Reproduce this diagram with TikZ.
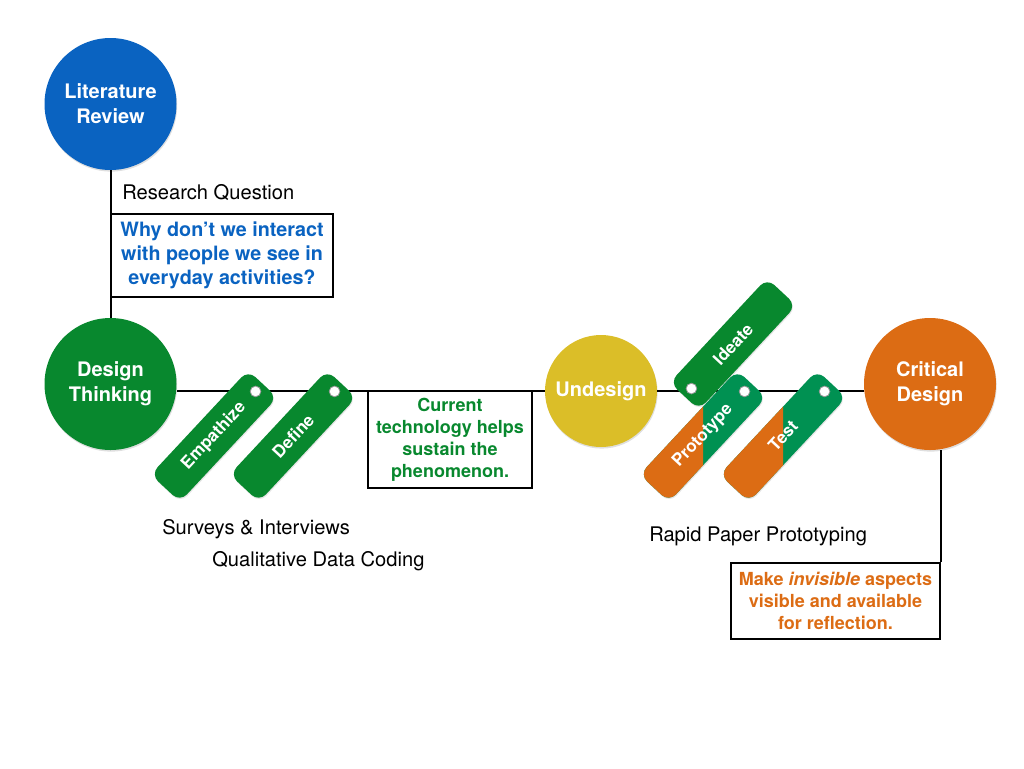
\documentclass[tikz,border=0pt]{standalone}
\usepackage{fontspec}
\setmainfont{TeX Gyre Heros}
\usetikzlibrary{calc,shadows}
\definecolor{litblue}{RGB}{10,99,193}
\definecolor{dtgreen}{RGB}{8,136,46}
\definecolor{tagteal}{RGB}{0,145,82}
\definecolor{undyellow}{RGB}{219,190,40}
\definecolor{critorange}{RGB}{220,108,20}
\begin{document}
\begin{tikzpicture}[x=0.75pt,y=0.75pt,yscale=-1,xscale=1,
  stage/.style={circle,minimum size=99pt,inner sep=0pt,text=white,align=center,
    font=\fontsize{15}{18.75}\selectfont\bfseries,
    drop shadow={opacity=0.25,shadow xshift=0.5pt,shadow yshift=-1.2pt}},
  tag/.style={rectangle,rounded corners=7.5pt,minimum width=107pt,minimum height=30pt,
    inner sep=0pt,rotate=47,text=white,font=\fontsize{12.8}{14}\selectfont\bfseries,
    drop shadow={opacity=0.2,shadow xshift=0.5pt,shadow yshift=-1pt}},
  splittag/.style={tag,fill=tagteal,path picture={
    \fill[critorange] (path picture bounding box.south west) -- (path picture bounding box.north west)
      -- (path picture bounding box.north) -- (path picture bounding box.south) -- cycle;}},
  hole/.style={circle,fill=white,draw=black!40,line width=0.6pt,minimum size=8pt,inner sep=0pt},
  note/.style={draw=black,line width=1.5pt,align=center,inner sep=0pt,
    font=\fontsize{13.5}{16.5}\selectfont\bfseries},
  plain/.style={anchor=west,inner sep=0pt,font=\fontsize{15.1}{17}\selectfont},
  link/.style={line width=1.5pt}
]
\useasboundingbox (0,0) rectangle (1024,768);

%Shape: Circle [stages]
\node[stage,fill=litblue] (lit) at (110.5,104) {Literature\\Review};
\node[stage,fill=dtgreen] (dt) at (110.5,384) {Design\\Thinking};
\node[stage,fill=undyellow,minimum size=84pt] (und) at (601,391) {Undesign};
\node[stage,fill=critorange] (crit) at (930,384) {Critical\\Design};

%Shape: Rectangle [notes]
\node[note,text=litblue,minimum width=166.5pt,minimum height=62.25pt,anchor=north west,
  font=\fontsize{14.8}{18}\selectfont\bfseries] (rq) at (110,213)
  {Why don’t we interact\\with people we see in\\everyday activities?};
\node[note,text=dtgreen,minimum width=123pt,minimum height=72.75pt,anchor=north] (tech) at (450,390)
  {Current\\technology helps\\sustain the\\phenomenon.};
\node[note,text=critorange,minimum width=156.75pt,minimum height=57pt,anchor=north east] (mk) at (941,562)
  {Make \textit{invisible} aspects\\visible and available\\for reflection.};

%Straight Lines
\draw[link] (lit) -- (dt);
\draw[link] (dt.east |- und.center) -- (und.west);
\draw[link] (und.east) -- (crit.west |- und.center);
\draw[link] (crit.south -| mk.north east) -- (mk.north east);

%Shape: Tags
\node[tag,fill=dtgreen] (emp) at (214,436) {Empathize};
\node[tag,fill=dtgreen] (def) at (293,436) {Define};
\node[tag,fill=dtgreen] (idea) at (733,344) {Ideate};
\node[splittag] (proto) at (703,436) {Prototype};
\node[splittag] (test) at (783,436) {Test};
\node[hole] (empH) at ($(emp.east)!8pt!(emp.center)$) {};
\node[hole] (defH) at ($(def.east)!8pt!(def.center)$) {};
\node[hole] (ideaH) at ($(idea.west)!8pt!(idea.center)$) {};
\node[hole] (protoH) at ($(proto.east)!8pt!(proto.center)$) {};
\node[hole] (testH) at ($(test.east)!8pt!(test.center)$) {};

% Text Node
\node[plain] (rqlab) at (122,193) {Research Question};
% Text Node
\node[plain] (surv) at (162,529) {Surveys \& Interviews};
% Text Node
\node[plain] (qual) at (212,561) {Qualitative Data Coding};
% Text Node
\node[plain] (rapid) at (649,536) {Rapid Paper Prototyping};

\end{tikzpicture}
\end{document}
